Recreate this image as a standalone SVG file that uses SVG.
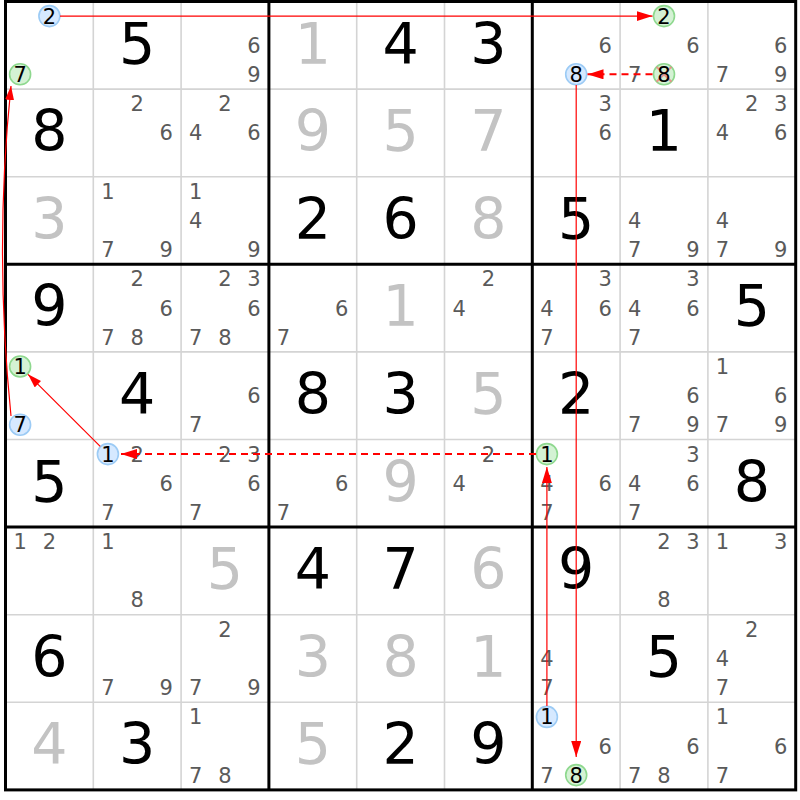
<svg xmlns="http://www.w3.org/2000/svg" width="800" height="800" viewBox="0 0 800 800">
<style>
text{font-family:"DejaVu Sans","Liberation Sans",sans-serif;text-anchor:middle}
.g{font-size:57px;fill:#000}
.s{font-size:57px;fill:#c3c3c3}
.c{font-size:21px;fill:#5a5a5a}
.k{font-size:21px;fill:#000}
.cb{fill:#d6e9ff;stroke:#9ccbf5;stroke-width:1.6}
.cg{fill:#d4f2d4;stroke:#8ed88e;stroke-width:1.6}
.x{stroke:#f08080;stroke-width:2;opacity:0.8}
.thin{stroke:#d4d4d4;stroke-width:1.6}
.thick{stroke:#000;stroke-width:3}
.ln{fill:none;stroke:#ff0000;stroke-width:1.2}
.dl{fill:none;stroke:#ff0000;stroke-width:2;stroke-dasharray:7 5}
</style>
<defs>
<marker id="ah" markerUnits="userSpaceOnUse" markerWidth="16" markerHeight="10" refX="16" refY="5" orient="auto"><path d="M0,0 L16,5 L0,10 Z" fill="#ff0000"/></marker>
<marker id="ahs" markerUnits="userSpaceOnUse" markerWidth="14" markerHeight="9" refX="14" refY="4.5" orient="auto"><path d="M0,0 L14,4.5 L0,9 Z" fill="#ff0000"/></marker>
</defs>
<rect x="0" y="0" width="800" height="800" fill="#fff"/>
<g id="grid">
<path class="thin" d="M93.3,1.5V789.9M181.1,1.5V789.9M356.7,1.5V789.9M444.5,1.5V789.9M620.1,1.5V789.9M707.9,1.5V789.9M5.5,89.1H795.7M5.5,176.7H795.7M5.5,351.9H795.7M5.5,439.5H795.7M5.5,614.7H795.7M5.5,702.3H795.7"/>
<path class="thick" d="M268.9,1.5V789.9M532.3,1.5V789.9M5.5,264.3H795.7M5.5,527.1H795.7"/>
<rect class="thick" x="5.5" y="1.5" width="790.2" height="788.4" fill="none"/>
</g>
<g id="cells">
<g id="r0c0"><circle class="cb" cx="49.4" cy="16.1" r="10.5"/><text class="k" x="49.4" y="23.6">2</text><circle class="cg" cx="20.1" cy="74.3" r="10.5"/><text class="k" x="20.1" y="81.8">7</text></g>
<g id="r0c1"><text class="g" x="137.2" y="63.5">5</text></g>
<g id="r0c2"><text class="c" x="254" y="52.8">6</text><text class="c" x="254" y="81.8">9</text></g>
<g id="r0c3"><text class="s" x="312.8" y="63.5">1</text></g>
<g id="r0c4"><text class="g" x="400.6" y="63.5">4</text></g>
<g id="r0c5"><text class="g" x="488.4" y="63.5">3</text></g>
<g id="r0c6"><text class="c" x="605.2" y="52.8">6</text><circle class="cb" cx="576.2" cy="74.3" r="10.5"/><text class="k" x="576.2" y="81.8">8</text></g>
<g id="r0c7"><circle class="cg" cx="664" cy="16.1" r="10.5"/><text class="k" x="664" y="23.6">2</text><text class="c" x="693" y="52.8">6</text><text class="c" x="634.7" y="81.8">7</text><circle class="cg" cx="664" cy="74.3" r="10.5"/><path class="x" d="M656.6,66.9L671.4,81.7M671.4,66.9L656.6,81.7"/><text class="k" x="664" y="81.8">8</text></g>
<g id="r0c8"><text class="c" x="780.8" y="52.8">6</text><text class="c" x="722.5" y="81.8">7</text><text class="c" x="780.8" y="81.8">9</text></g>

<g id="r1c0"><text class="g" x="49.4" y="151.1">8</text></g>
<g id="r1c1"><text class="c" x="137.2" y="111.2">2</text><text class="c" x="166.2" y="140.4">6</text></g>
<g id="r1c2"><text class="c" x="225" y="111.2">2</text><text class="c" x="195.7" y="140.4">4</text><text class="c" x="254" y="140.4">6</text></g>
<g id="r1c3"><text class="s" x="312.8" y="151.1">9</text></g>
<g id="r1c4"><text class="s" x="400.6" y="151.1">5</text></g>
<g id="r1c5"><text class="s" x="488.4" y="151.1">7</text></g>
<g id="r1c6"><text class="c" x="605.2" y="111.2">3</text><text class="c" x="605.2" y="140.4">6</text></g>
<g id="r1c7"><text class="g" x="664" y="151.1">1</text></g>
<g id="r1c8"><text class="c" x="751.8" y="111.2">2</text><text class="c" x="780.8" y="111.2">3</text><text class="c" x="722.5" y="140.4">4</text><text class="c" x="780.8" y="140.4">6</text></g>

<g id="r2c0"><text class="s" x="49.4" y="238.7">3</text></g>
<g id="r2c1"><text class="c" x="107.9" y="198.8">1</text><text class="c" x="107.9" y="257">7</text><text class="c" x="166.2" y="257">9</text></g>
<g id="r2c2"><text class="c" x="195.7" y="198.8">1</text><text class="c" x="195.7" y="228">4</text><text class="c" x="254" y="257">9</text></g>
<g id="r2c3"><text class="g" x="312.8" y="238.7">2</text></g>
<g id="r2c4"><text class="g" x="400.6" y="238.7">6</text></g>
<g id="r2c5"><text class="s" x="488.4" y="238.7">8</text></g>
<g id="r2c6"><text class="g" x="576.2" y="238.7">5</text></g>
<g id="r2c7"><text class="c" x="634.7" y="228">4</text><text class="c" x="634.7" y="257">7</text><text class="c" x="693" y="257">9</text></g>
<g id="r2c8"><text class="c" x="722.5" y="228">4</text><text class="c" x="722.5" y="257">7</text><text class="c" x="780.8" y="257">9</text></g>

<g id="r3c0"><text class="g" x="49.4" y="326.3">9</text></g>
<g id="r3c1"><text class="c" x="137.2" y="286.4">2</text><text class="c" x="166.2" y="315.6">6</text><text class="c" x="107.9" y="344.6">7</text><text class="c" x="137.2" y="344.6">8</text></g>
<g id="r3c2"><text class="c" x="225" y="286.4">2</text><text class="c" x="254" y="286.4">3</text><text class="c" x="254" y="315.6">6</text><text class="c" x="195.7" y="344.6">7</text><text class="c" x="225" y="344.6">8</text></g>
<g id="r3c3"><text class="c" x="341.8" y="315.6">6</text><text class="c" x="283.5" y="344.6">7</text></g>
<g id="r3c4"><text class="s" x="400.6" y="326.3">1</text></g>
<g id="r3c5"><text class="c" x="488.4" y="286.4">2</text><text class="c" x="459.1" y="315.6">4</text></g>
<g id="r3c6"><text class="c" x="605.2" y="286.4">3</text><text class="c" x="546.9" y="315.6">4</text><text class="c" x="605.2" y="315.6">6</text><text class="c" x="546.9" y="344.6">7</text></g>
<g id="r3c7"><text class="c" x="693" y="286.4">3</text><text class="c" x="634.7" y="315.6">4</text><text class="c" x="693" y="315.6">6</text><text class="c" x="634.7" y="344.6">7</text></g>
<g id="r3c8"><text class="g" x="751.8" y="326.3">5</text></g>

<g id="r4c0"><circle class="cg" cx="20.1" cy="366.5" r="10.5"/><text class="k" x="20.1" y="374">1</text><circle class="cb" cx="20.1" cy="424.7" r="10.5"/><text class="k" x="20.1" y="432.2">7</text></g>
<g id="r4c1"><text class="g" x="137.2" y="413.9">4</text></g>
<g id="r4c2"><text class="c" x="254" y="403.2">6</text><text class="c" x="195.7" y="432.2">7</text></g>
<g id="r4c3"><text class="g" x="312.8" y="413.9">8</text></g>
<g id="r4c4"><text class="g" x="400.6" y="413.9">3</text></g>
<g id="r4c5"><text class="s" x="488.4" y="413.9">5</text></g>
<g id="r4c6"><text class="g" x="576.2" y="413.9">2</text></g>
<g id="r4c7"><text class="c" x="693" y="403.2">6</text><text class="c" x="634.7" y="432.2">7</text><text class="c" x="693" y="432.2">9</text></g>
<g id="r4c8"><text class="c" x="722.5" y="374">1</text><text class="c" x="780.8" y="403.2">6</text><text class="c" x="722.5" y="432.2">7</text><text class="c" x="780.8" y="432.2">9</text></g>

<g id="r5c0"><text class="g" x="49.4" y="501.5">5</text></g>
<g id="r5c1"><circle class="cb" cx="107.9" cy="454.1" r="10.5"/><text class="k" x="107.9" y="461.6">1</text><text class="c" x="137.2" y="461.6">2</text><text class="c" x="166.2" y="490.8">6</text><text class="c" x="107.9" y="519.8">7</text></g>
<g id="r5c2"><text class="c" x="225" y="461.6">2</text><text class="c" x="254" y="461.6">3</text><text class="c" x="254" y="490.8">6</text><text class="c" x="195.7" y="519.8">7</text></g>
<g id="r5c3"><text class="c" x="341.8" y="490.8">6</text><text class="c" x="283.5" y="519.8">7</text></g>
<g id="r5c4"><text class="s" x="400.6" y="501.5">9</text></g>
<g id="r5c5"><text class="c" x="488.4" y="461.6">2</text><text class="c" x="459.1" y="490.8">4</text></g>
<g id="r5c6"><circle class="cg" cx="546.9" cy="454.1" r="10.5"/><text class="k" x="546.9" y="461.6">1</text><text class="c" x="546.9" y="490.8">4</text><text class="c" x="605.2" y="490.8">6</text><text class="c" x="546.9" y="519.8">7</text></g>
<g id="r5c7"><text class="c" x="693" y="461.6">3</text><text class="c" x="634.7" y="490.8">4</text><text class="c" x="693" y="490.8">6</text><text class="c" x="634.7" y="519.8">7</text></g>
<g id="r5c8"><text class="g" x="751.8" y="501.5">8</text></g>

<g id="r6c0"><text class="c" x="20.1" y="549.2">1</text><text class="c" x="49.4" y="549.2">2</text></g>
<g id="r6c1"><text class="c" x="107.9" y="549.2">1</text><text class="c" x="137.2" y="607.4">8</text></g>
<g id="r6c2"><text class="s" x="225" y="589.1">5</text></g>
<g id="r6c3"><text class="g" x="312.8" y="589.1">4</text></g>
<g id="r6c4"><text class="g" x="400.6" y="589.1">7</text></g>
<g id="r6c5"><text class="s" x="488.4" y="589.1">6</text></g>
<g id="r6c6"><text class="g" x="576.2" y="589.1">9</text></g>
<g id="r6c7"><text class="c" x="664" y="549.2">2</text><text class="c" x="693" y="549.2">3</text><text class="c" x="664" y="607.4">8</text></g>
<g id="r6c8"><text class="c" x="722.5" y="549.2">1</text><text class="c" x="780.8" y="549.2">3</text></g>

<g id="r7c0"><text class="g" x="49.4" y="676.7">6</text></g>
<g id="r7c1"><text class="c" x="107.9" y="695">7</text><text class="c" x="166.2" y="695">9</text></g>
<g id="r7c2"><text class="c" x="225" y="636.8">2</text><text class="c" x="195.7" y="695">7</text><text class="c" x="254" y="695">9</text></g>
<g id="r7c3"><text class="s" x="312.8" y="676.7">3</text></g>
<g id="r7c4"><text class="s" x="400.6" y="676.7">8</text></g>
<g id="r7c5"><text class="s" x="488.4" y="676.7">1</text></g>
<g id="r7c6"><text class="c" x="546.9" y="666">4</text><text class="c" x="546.9" y="695">7</text></g>
<g id="r7c7"><text class="g" x="664" y="676.7">5</text></g>
<g id="r7c8"><text class="c" x="751.8" y="636.8">2</text><text class="c" x="722.5" y="666">4</text><text class="c" x="722.5" y="695">7</text></g>

<g id="r8c0"><text class="s" x="49.4" y="764.3">4</text></g>
<g id="r8c1"><text class="g" x="137.2" y="764.3">3</text></g>
<g id="r8c2"><text class="c" x="195.7" y="724.4">1</text><text class="c" x="195.7" y="782.6">7</text><text class="c" x="225" y="782.6">8</text></g>
<g id="r8c3"><text class="s" x="312.8" y="764.3">5</text></g>
<g id="r8c4"><text class="g" x="400.6" y="764.3">2</text></g>
<g id="r8c5"><text class="g" x="488.4" y="764.3">9</text></g>
<g id="r8c6"><circle class="cb" cx="546.9" cy="716.9" r="10.5"/><text class="k" x="546.9" y="724.4">1</text><text class="c" x="605.2" y="753.6">6</text><text class="c" x="546.9" y="782.6">7</text><circle class="cg" cx="576.2" cy="775.1" r="10.5"/><text class="k" x="576.2" y="782.6">8</text></g>
<g id="r8c7"><text class="c" x="693" y="753.6">6</text><text class="c" x="634.7" y="782.6">7</text><text class="c" x="664" y="782.6">8</text></g>
<g id="r8c8"><text class="c" x="722.5" y="724.4">1</text><text class="c" x="780.8" y="753.6">6</text><text class="c" x="722.5" y="782.6">7</text></g>
</g>
<g id="connectors">
<path class="ln" d="M60,16.1H652.5" marker-end="url(#ah)"/>
<path class="dl" d="M652.5,74.3H587.5" marker-end="url(#ah)"/>
<path class="ln" d="M576.2,85V757" marker-end="url(#ah)"/>
<path class="ln" d="M546.9,706V467" marker-end="url(#ah)"/>
<path class="dl" d="M536,454.1H121" marker-end="url(#ah)"/>
<path class="ln" d="M100.2,446.4L28,374.3" marker-end="url(#ahs)"/>
<path class="ln" d="M11,416Q-6,249 11,86" marker-end="url(#ahs)"/>
</g>
</svg>
